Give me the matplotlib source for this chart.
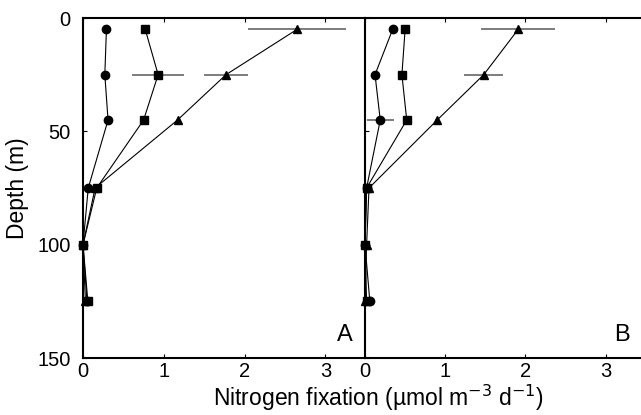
import matplotlib
matplotlib.use("Agg")
import matplotlib.pyplot as plt

plt.rcParams['font.family'] = ['Liberation Sans', 'DejaVu Sans']

depth = [5, 25, 45, 75, 100, 125]

# panel A
a_circ = [0.29, 0.27, 0.31, 0.065, 0.0, 0.05]
a_circ_err = [0.0, 0.0, 0.0, 0.0, 0.0, 0.0]
a_sq = [0.77, 0.93, 0.75, 0.17, 0.0, 0.06]
a_sq_err = [0.05, 0.32, 0.05, 0.05, 0.0, 0.0]
a_tri = [2.65, 1.77, 1.17, 0.15, 0.0, 0.03]
a_tri_err = [0.61, 0.27, 0.0, 0.0, 0.0, 0.0]

# panel B
b_circ = [0.345, 0.125, 0.19, 0.02, 0.0, 0.06]
b_circ_err = [0.0, 0.0, 0.17, 0.0, 0.0, 0.0]
b_sq = [0.5, 0.46, 0.52, 0.02, 0.0, 0.02]
b_sq_err = [0.0, 0.0, 0.0, 0.0, 0.0, 0.0]
b_tri = [1.91, 1.48, 0.9, 0.05, 0.02, 0.0]
b_tri_err = [0.46, 0.24, 0.0, 0.0, 0.0, 0.0]

W, H = 641, 415
fig = plt.figure(figsize=(W / 100, H / 100), dpi=100)
bot = 1 - 358 / H
hgt = 340 / H
axA = fig.add_axes([83 / W, bot, 282 / W, hgt])
axB = fig.add_axes([365 / W, bot, 276 / W, hgt])

panels = [
    (axA, "A", [(a_circ, a_circ_err, "o"), (a_sq, a_sq_err, "s"), (a_tri, a_tri_err, "^")], 3.49),
    (axB, "B", [(b_circ, b_circ_err, "o"), (b_sq, b_sq_err, "s"), (b_tri, b_tri_err, "^")], 3.44),
]

for ax, letter, series, xmax in panels:
    for vals, err, mk in series:
        ax.errorbar(vals, depth, xerr=err, fmt="none", ecolor="#666666",
                    elinewidth=1.2, capsize=0, zorder=2)
        ax.plot(vals, depth, color="black", lw=0.8, marker=mk,
                markersize=6 if mk != "s" else 5.5, markerfacecolor="black",
                markeredgecolor="black", zorder=3, clip_on=False)
    ax.set_xlim(0, xmax)
    ax.set_ylim(150, 0)
    ax.set_xticks([0, 1, 2, 3])
    ax.set_yticks([0, 50, 100, 150])
    ax.tick_params(direction="in", length=3, width=0.8, labelsize=14.5,
                   top=True)
    ax.tick_params(axis="y", pad=9)
    ax.tick_params(axis="x", pad=3)
    ax.spines["right"].set_visible(False)
    for s in ["left", "top", "bottom"]:
        ax.spines[s].set_linewidth(1.5)
    ax.text(0.93, 0.035, letter, transform=ax.transAxes, fontsize=17,
            ha="center", va="bottom")

axB.tick_params(labelleft=False)
axA.set_ylabel("Depth (m)", fontsize=16.5, labelpad=6)
fig.text(378 / W, 1 - 398 / H, "Nitrogen fixation (µmol m$^{-3}$ d$^{-1}$)",
         fontsize=16.5, ha="center", va="center")

fig.savefig("out.png", dpi=100)
